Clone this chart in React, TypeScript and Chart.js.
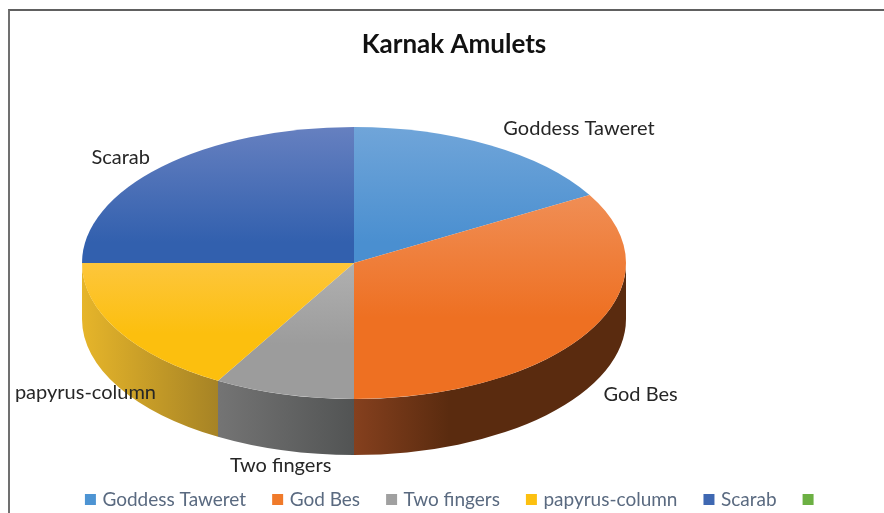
import React, { useEffect, useRef } from "react";
import { Chart, registerables } from "chart.js";

Chart.register(...registerables);

const categories = ["Goddess Taweret", "God Bes", "Two fingers", "papyrus-column", "Scarab", ""];
const values = [2, 4, 1, 2, 3, 0];
const titleText = "Karnak Amulets";

const topColors = ["#70a5d9", "#f08e55", "#b0b0b0", "#fdc63c", "#6680c0", "#70ad47"];
const baseColors = ["#4a8fd0", "#ee7022", "#9c9c9c", "#fcbf0e", "#3260ae", "#70ad47"];
const legendColors = ["#4d94d3", "#f07a2a", "#a0a0a0", "#fcc010", "#3f68b2", "#6cb043"];
const wallLeft = ["#3b6a94", "#85401e", "#747474", "#e6b52a", "#2a4a80", "#4a7a30"];
const wallRight = ["#3b6a94", "#5a2b0f", "#525454", "#a68325", "#2a4a80", "#4a7a30"];
const labelShift: [number, number][] = [[89, -17], [51, 64], [-3, 71], [-33, 62], [-41, -9], [0, 0]];

const PIE_CX = 354;
const PIE_CY = 263;
const RADIUS = 272;
const SQUASH = 0.5;
const DEPTH = 56;
const FONT = "Lato, Carlito, 'Open Sans', sans-serif";

function sliceGradient(context: any) {
  const { chart, dataIndex } = context;
  if (dataIndex === undefined || !chart.chartArea) return baseColors[0];
  const total = values.reduce((a, b) => a + b, 0);
  const before = values.slice(0, dataIndex).reduce((a, b) => a + b, 0);
  const s = (before / total) * Math.PI * 2;
  const e = ((before + values[dataIndex]) / total) * Math.PI * 2;
  const ys = [0, -Math.cos(s), -Math.cos(e)];
  if (s <= Math.PI && e >= Math.PI) ys.push(1);
  if (s <= 0) ys.push(-1);
  const area = chart.chartArea;
  const cy = (area.top + area.bottom) / 2;
  const y0 = cy + Math.min(...ys) * RADIUS;
  const y1 = cy + Math.max(...ys) * RADIUS;
  const g = chart.ctx.createLinearGradient(0, y0, 0, Math.max(y1, y0 + 1));
  g.addColorStop(0, topColors[dataIndex]);
  g.addColorStop(dataIndex === 0 || dataIndex === 4 ? 0.85 : 0.6, baseColors[dataIndex]);
  g.addColorStop(1, baseColors[dataIndex]);
  return g;
}

const pie3d = {
  id: "pie3d",
  beforeDatasetsDraw(chart: any) {
    const { ctx } = chart;
    const arcs = chart.getDatasetMeta(0).data;
    const ry = RADIUS * SQUASH;
    ctx.save();
    arcs.forEach((arc: any, i: number) => {
      const a = Math.max(arc.startAngle, 0);
      const b = Math.min(arc.endAngle, Math.PI);
      if (b <= a) return;
      const x0 = PIE_CX + RADIUS * Math.cos(b);
      const x1 = PIE_CX + RADIUS * Math.cos(a);
      const g = ctx.createLinearGradient(x0, 0, x1, 0);
      g.addColorStop(0, wallLeft[i]);
      g.addColorStop(i === 1 ? 0.35 : 1, wallRight[i]);
      g.addColorStop(1, wallRight[i]);
      ctx.beginPath();
      ctx.ellipse(PIE_CX, PIE_CY, RADIUS, ry, 0, a, b);
      ctx.ellipse(PIE_CX, PIE_CY + DEPTH, RADIUS, ry, 0, b, a, true);
      ctx.closePath();
      ctx.fillStyle = g;
      ctx.fill();
    });
    ctx.restore();
    const first = arcs[0];
    ctx.save();
    ctx.translate(PIE_CX, PIE_CY);
    ctx.scale(1, SQUASH);
    ctx.translate(-first.x, -first.y);
  },
  afterDatasetsDraw(chart: any) {
    const { ctx } = chart;
    ctx.restore();
    const arcs = chart.getDatasetMeta(0).data;
    ctx.save();
    ctx.font = `20px ${FONT}`;
    ctx.fillStyle = "#262626";
    ctx.textAlign = "center";
    ctx.textBaseline = "middle";
    arcs.forEach((arc: any, i: number) => {
      if (!categories[i]) return;
      const mid = (arc.startAngle + arc.endAngle) / 2;
      const x = PIE_CX + RADIUS * Math.cos(mid) + labelShift[i][0];
      const y = PIE_CY + RADIUS * SQUASH * Math.sin(mid) + labelShift[i][1];
      ctx.fillText(categories[i], x, y);
    });
    ctx.restore();
  },
};

export default function App() {
  const ref = useRef<HTMLCanvasElement | null>(null);
  useEffect(() => {
    document.body.style.margin = "0";
    document.body.style.overflow = "hidden";
    const chart = new Chart(ref.current as HTMLCanvasElement, {
      type: "pie",
      data: {
        labels: categories,
        datasets: [
          {
            data: values,
            backgroundColor: sliceGradient,
            borderWidth: 0,
            radius: RADIUS,
            clip: false,
          } as any,
        ],
      },
      options: {
        responsive: false,
        animation: false,
        layout: { padding: { left: 24, bottom: -6 } },
        plugins: {
          tooltip: { enabled: false },
          title: {
            display: true,
            text: titleText,
            color: "#111111",
            font: { family: FONT, size: 26, weight: "bold" },
            padding: { top: 29, bottom: 10 },
          },
          legend: {
            position: "bottom",
            onClick: () => {},
            labels: {
              boxWidth: 5,
              boxHeight: 5,
              padding: 29,
              color: "#5a6a80",
              font: { family: FONT, size: 19 },
              generateLabels: () =>
                categories.map((text, i) => ({
                  text,
                  index: i,
                  fillStyle: legendColors[i],
                  strokeStyle: legendColors[i],
                  fontColor: "#5a6a80",
                  lineWidth: 6,
                  hidden: false,
                })),
            },
          },
        },
      },
      plugins: [pie3d],
    });
    return () => chart.destroy();
  }, []);
  return (
    <div style={{ position: "relative", width: 884, height: 513, overflow: "hidden", background: "#fff" }}>
      <canvas ref={ref} width={884} height={513} style={{ display: "block", filter: "blur(0.45px)" }} />
      <div style={{ position: "absolute", left: 8, top: 9, width: 900, height: 600, borderLeft: "2px solid #707070", borderTop: "2px solid #606060" }} />
    </div>
  );
}
